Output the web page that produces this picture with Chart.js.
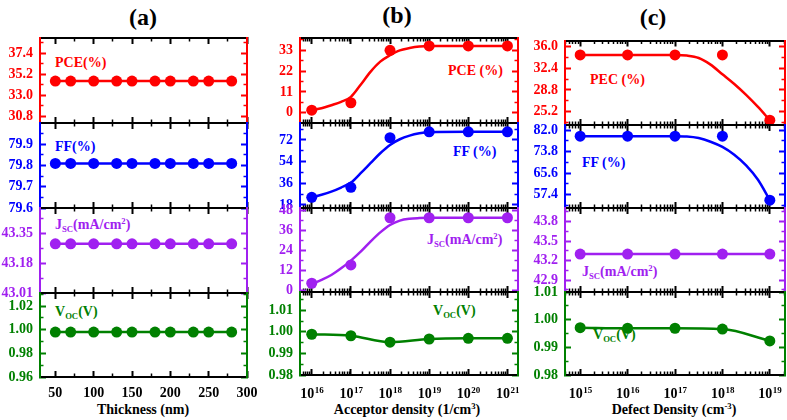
<!DOCTYPE html>
<html>
<head>
<meta charset="utf-8">
<script src="https://cdn.jsdelivr.net/npm/chart.js@4.4.1/dist/chart.umd.min.js"></script>
<style>
  html, body { margin: 0; padding: 0; background: #fff; }
  #wrap { position: relative; width: 787px; height: 420px; overflow: hidden; font-family: 'Liberation Serif', 'Times New Roman', serif; font-weight: bold; }
  #wrap canvas { position: absolute; left: 0; top: 0; }
  .lbl { position: absolute; white-space: nowrap; line-height: 1; font-size: 14px; transform: translateY(-50%); }
  .lbl.c { transform: translate(-50%, -50%); }
  .lbl sub, .lbl sup { font-size: 62%; position: relative; vertical-align: baseline; }
  .lbl sub { top: 0.3em; }
  .lbl sup { top: -0.55em; }
</style>
</head>
<body>
<div id="wrap"></div>
<script>
// ---- data ----
const thickness = [50, 70, 100, 130, 150, 180, 200, 230, 250, 280];
const thickPCE = [34.47, 34.47, 34.47, 34.47, 34.47, 34.47, 34.47, 34.47, 34.47, 34.47];
const thickFF = [79.81, 79.81, 79.81, 79.81, 79.81, 79.81, 79.81, 79.81, 79.81, 79.81];
const thickJsc = [43.29, 43.29, 43.29, 43.29, 43.29, 43.29, 43.29, 43.29, 43.29, 43.29];
const thickVoc = [0.998, 0.998, 0.998, 0.998, 0.998, 0.998, 0.998, 0.998, 0.998, 0.998];

// acceptor density, as log10 exponent
const acceptorExp = [16, 17, 18, 19, 20, 21];
const accPCE = [1.4, 5.3, 33.0, 35.3, 35.3, 35.3];
const accFF = [24.4, 32.7, 73.9, 78.8, 78.8, 78.8];
const accJsc = [4.4, 15.3, 43.4, 43.4, 43.4, 43.4];
const accVoc = [0.9989, 0.9982, 0.9952, 0.9967, 0.9970, 0.9970];
// fitted curves drawn through the acceptor points
const accFitExp = [16, 16.25, 16.5, 16.75, 17, 17.25, 17.5, 17.75, 18, 18.25, 18.5, 18.75, 19, 20, 21];
const accPCEFit = [1.4, 2.4, 4.0, 5.8, 8.4, 14.8, 21.6, 27.0, 30.4, 33.0, 34.2, 35.0, 35.3, 35.3, 35.3];
const accFFFit = [24.4, 26.5, 29.1, 32.5, 36.6, 44.4, 52.7, 61.0, 67.9, 72.6, 75.6, 77.5, 78.5, 78.8, 78.8];
const accJscFit = [4.0, 6.4, 9.3, 13.3, 17.9, 23.2, 29.2, 34.7, 39.1, 41.7, 42.8, 43.2, 43.4, 43.4, 43.4];

// defect density, as log10 exponent
const defectExp = [15, 16, 17, 18, 19];
const defPEC = [34.6, 34.6, 34.6, 34.6, 23.8];
const defFF = [79.7, 79.7, 79.7, 79.7, 55.2];
const defJsc = [43.30, 43.30, 43.30, 43.30, 43.30];
const defVoc = [0.9971, 0.9969, 0.9969, 0.9966, 0.9923];
const defFitExp = [15, 16, 17, 17.25, 17.5, 17.75, 18, 18.25, 18.5, 18.75, 19];
const defPECFit = [34.6, 34.6, 34.6, 34.5, 34.1, 33.0, 31.4, 29.8, 28.0, 26.0, 23.8];
const defFFFit = [79.7, 79.7, 79.7, 79.6, 79.0, 77.6, 75.6, 72.6, 68.5, 63.0, 55.2];

// tick values
const thickTicks = [50, 100, 150, 200, 250, 300];
const thickMinor = [75, 125, 175, 225, 275];
const accTicks = [16, 17, 18, 19, 20, 21];
const defTicks = [15, 16, 17, 18, 19];

const aPCETicks = [30.8, 33.0, 35.2, 37.4];
const aFFTicks = [79.6, 79.7, 79.8, 79.9];
const aJscTicks = [43.01, 43.18, 43.35];
const aVocTicks = [0.96, 0.98, 1.00, 1.02];
const bPCETicks = [0, 11, 22, 33];
const bFFTicks = [18, 36, 54, 72];
const bJscTicks = [0, 12, 24, 36, 48];
const bVocTicks = [0.98, 0.99, 1.00, 1.01];
const cPECTicks = [25.2, 28.8, 32.4, 36.0];
const cFFTicks = [57.4, 65.6, 73.8, 82.0];
const cJscTicks = [42.9, 43.2, 43.5, 43.8];
const cVocTicks = [0.98, 0.99, 1.00, 1.01];

const RED = '#ff0000', BLUE = '#0000ff', PURPLE = '#a020f0', GREEN = '#008000';
const FONT = "'Liberation Serif', 'Times New Roman', serif";
const W = 787, H = 420;
const LABEL_W = 46, LABEL_H = 40;

function logMinor(min, max) {
    const out = [];
    for (let n = Math.floor(min); n <= Math.ceil(max); n++) {
        for (let k = 2; k <= 9; k++) {
            const v = n + Math.log10(k);
            if (v >= min && v <= max) out.push(v);
        }
    }
    return out;
}

function halfSteps(ticks, min, max) {
    const step = ticks[1] - ticks[0];
    const out = [];
    for (let v = ticks[0] - step / 2; v <= max + 1e-9; v += step) {
        if (v >= min - 1e-9) out.push(v);
    }
    return out;
}

// "10" with a raised exponent under each tick of the bottom x scale
const powLabels = {
    id: 'powLabels',
    afterDraw(chart, args, opts) {
        if (!opts.show) return;
        const s = chart.scales.x;
        const ctx = chart.ctx;
        const base = s.top + opts.offset;
        ctx.save();
        ctx.fillStyle = '#000';
        ctx.textAlign = 'left';
        ctx.textBaseline = 'alphabetic';
        s.ticks.forEach(t => {
            const x = s.getPixelForValue(t.value);
            const exp = String(Math.round(t.value));
            ctx.font = 'bold 14px ' + FONT;
            const w1 = ctx.measureText('10').width;
            ctx.font = 'bold 9px ' + FONT;
            const w2 = ctx.measureText(exp).width;
            const x0 = x - (w1 + w2) / 2;
            ctx.font = 'bold 14px ' + FONT;
            ctx.fillText('10', x0, base);
            ctx.font = 'bold 9px ' + FONT;
            ctx.fillText(exp, x0 + w1 + 0.5, base - 5.5);
        });
        ctx.restore();
    }
};

const columns = [
    { left: 40, right: 247, rows: [38, 123, 208, 293, 377], xMin: 30, xMax: 300,
      xTicks: thickTicks, xMinor: thickMinor, xLabel: v => String(v), pad: 14 },
    { left: 300, right: 518, rows: [38, 123, 208, 292, 375], xMin: 15.7, xMax: 21.27,
      xTicks: accTicks, xMinor: logMinor(15.7, 21.27), pow: true },
    { left: 565, right: 785, rows: [40.5, 125, 208, 292, 375], xMin: 14.68, xMax: 19.32,
      xTicks: defTicks, xMinor: logMinor(14.68, 19.32), pow: true }
];

const panels = [
    { col: 0, row: 0, color: RED, yMin: 30.07, yMax: 39.0, yTicks: aPCETicks, dec: 1, xs: thickness, ys: thickPCE, line: 'straight' },
    { col: 0, row: 1, color: BLUE, yMin: 79.6, yMax: 80.0, yTicks: aFFTicks, dec: 1, xs: thickness, ys: thickFF, line: 'straight' },
    { col: 0, row: 2, color: PURPLE, yMin: 43.01, yMax: 43.494, yTicks: aJscTicks, dec: 2, xs: thickness, ys: thickJsc, line: 'straight' },
    { col: 0, row: 3, color: GREEN, yMin: 0.96, yMax: 1.031, yTicks: aVocTicks, dec: 2, xs: thickness, ys: thickVoc, line: 'straight' },

    { col: 1, row: 0, color: RED, yMin: -5.4, yMax: 39.5, yTicks: bPCETicks, dec: 0, xs: acceptorExp, ys: accPCE, line: 'none', fx: accFitExp, fy: accPCEFit },
    { col: 1, row: 1, color: BLUE, yMin: 15.5, yMax: 86.1, yTicks: bFFTicks, dec: 0, xs: acceptorExp, ys: accFF, line: 'none', fx: accFitExp, fy: accFFFit },
    { col: 1, row: 2, color: PURPLE, yMin: -0.8, yMax: 49.2, yTicks: bJscTicks, dec: 0, xs: acceptorExp, ys: accJsc, line: 'none', fx: accFitExp, fy: accJscFit },
    { col: 1, row: 3, color: GREEN, yMin: 0.98, yMax: 1.0185, yTicks: bVocTicks, dec: 2, xs: acceptorExp, ys: accVoc, line: 'smooth' },

    { col: 2, row: 0, color: RED, yMin: 23.0, yMax: 37.0, yTicks: cPECTicks, dec: 1, xs: defectExp, ys: defPEC, line: 'none', fx: defFitExp, fy: defPECFit },
    { col: 2, row: 1, color: BLUE, yMin: 52.2, yMax: 84.0, yTicks: cFFTicks, dec: 1, xs: defectExp, ys: defFF, line: 'none', fx: defFitExp, fy: defFFFit },
    { col: 2, row: 2, color: PURPLE, yMin: 42.715, yMax: 44.01, yTicks: cJscTicks, dec: 1, xs: defectExp, ys: defJsc, line: 'straight' },
    { col: 2, row: 3, color: GREEN, yMin: 0.98, yMax: 1.01, yTicks: cVocTicks, dec: 2, xs: defectExp, ys: defVoc, line: 'smooth' }
];

// text placed on the figure: [html, x, y, color, size, centred]
const notes = [
    ['(a)', 143, 17, '#000', 24, true],
    ['(b)', 397, 15, '#000', 24, true],
    ['(c)', 653, 17, '#000', 24, true],
    ['Thickness (nm)', 143, 410, '#000', 14, true],
    ['Acceptor density (1/cm<sup>3</sup>)', 407, 410, '#000', 14, true],
    ['Defect Density (cm<sup>-3</sup>)', 674, 410, '#000', 14, true],
    ['PCE(%)', 55, 63, RED, 14],
    ['FF(%)', 55, 147, BLUE, 14],
    ['J<sub>SC</sub>(mA/cm<sup>2</sup>)', 55, 225, PURPLE, 14],
    ['V<sub>OC</sub>(V)', 55, 312, GREEN, 14],
    ['PCE (%)', 448, 71, RED, 14],
    ['FF (%)', 453, 152, BLUE, 14],
    ['J<sub>SC</sub>(mA/cm<sup>2</sup>)', 427, 240, PURPLE, 14],
    ['V<sub>OC</sub>(V)', 433, 311, GREEN, 14],
    ['PEC (%)', 590, 80, RED, 14],
    ['FF (%)', 582, 163, BLUE, 14],
    ['J<sub>SC</sub>(mA/cm<sup>2</sup>)', 582, 272, PURPLE, 14],
    ['V<sub>OC</sub>(V)', 593, 335, GREEN, 14]
];

const wrap = document.getElementById('wrap');

notes.forEach(n => {
    const d = document.createElement('div');
    d.className = 'lbl' + (n[5] ? ' c' : '');
    d.innerHTML = n[0];
    d.style.left = n[1] + 'px';
    d.style.top = n[2] + 'px';
    d.style.color = n[3];
    d.style.fontSize = n[4] + 'px';
    wrap.appendChild(d);
});

// o.size: box size for a scale that shows labels (labels are clipped to their box)
function makeScale(pos, min, max, ticks, o) {
    const horizontal = pos === 'top' || pos === 'bottom';
    const c = horizontal ? '#000' : o.color;
    const size = o.labels ? o.size : 0;
    return {
        type: 'linear', position: pos, min: min, max: max,
        weight: o.labels ? 1 : 0,
        afterBuildTicks: s => { s.ticks = ticks.map(v => ({ value: v })); },
        afterFit: s => {
            if (horizontal) s.height = size; else s.width = size;
            s.paddingLeft = s.paddingRight = s.paddingTop = s.paddingBottom = 0;
        },
        border: { display: !o.minor, color: c, width: 2 },
        grid: { display: true, drawOnChartArea: false, tickLength: o.minor ? -3.5 : -6, tickWidth: o.minor ? 1.5 : 2, tickColor: c },
        ticks: {
            display: !!o.labels, autoSkip: false, maxRotation: 0, padding: o.pad || 0, color: c,
            font: { family: FONT, weight: 'bold', size: 14 },
            callback: o.labels || (v => v)
        }
    };
}

function pointSet(xs, ys, color, line) {
    return {
        data: xs.map((x, i) => ({ x: x, y: ys[i] })),
        showLine: line !== 'none',
        borderColor: color, backgroundColor: color,
        borderWidth: 2.5, pointRadius: 5.5, pointHoverRadius: 5.5, pointBorderWidth: 0,
        cubicInterpolationMode: line === 'smooth' ? 'monotone' : 'default',
        tension: 0, clip: false
    };
}

function fitSet(xs, ys, color) {
    return {
        data: xs.map((x, i) => ({ x: x, y: ys[i] })),
        showLine: true, borderColor: color, backgroundColor: color,
        borderWidth: 2.5, pointRadius: 0, pointHoverRadius: 0,
        cubicInterpolationMode: 'monotone', clip: false
    };
}

function drawPanel(p) {
    const col = columns[p.col];
    const top = col.rows[p.row], bottom = col.rows[p.row + 1];
    const last = p.row === 3;
    const canvas = document.createElement('canvas');
    canvas.width = W;
    canvas.height = H;
    wrap.appendChild(canvas);

    const datasets = [pointSet(p.xs, p.ys, p.color, p.line)];
    if (p.fx) datasets.push(fitSet(p.fx, p.fy, p.color));
    const yMinor = halfSteps(p.yTicks, p.yMin, p.yMax);
    const o = { color: p.color };
    const minor = Object.assign({}, o, { minor: true });
    const xMain = last && !col.pow ? Object.assign({}, o, { labels: col.xLabel, pad: col.pad, size: LABEL_H }) : o;
    const bottomPad = H - bottom - (last && !col.pow ? LABEL_H : 0);

    new Chart(canvas, {
        type: 'scatter',
        data: { datasets: datasets },
        plugins: [powLabels],
        options: {
            responsive: false, animation: false, devicePixelRatio: 1,
            layout: {
                autoPadding: false,
                padding: { left: col.left - LABEL_W, right: W - col.right, top: top, bottom: bottomPad }
            },
            plugins: {
                legend: { display: false },
                tooltip: { enabled: false },
                powLabels: { show: last && !!col.pow, offset: 23 }
            },
            events: [],
            scales: {
                x: makeScale('bottom', col.xMin, col.xMax, col.xTicks, xMain),
                xMinor: makeScale('bottom', col.xMin, col.xMax, col.xMinor, minor),
                xTop: makeScale('top', col.xMin, col.xMax, col.xTicks, o),
                xTopMinor: makeScale('top', col.xMin, col.xMax, col.xMinor, minor),
                y: makeScale('left', p.yMin, p.yMax, p.yTicks, Object.assign({}, o, { labels: v => v.toFixed(p.dec), pad: 13, size: LABEL_W })),
                yMinor: makeScale('left', p.yMin, p.yMax, yMinor, minor),
                yRight: makeScale('right', p.yMin, p.yMax, p.yTicks, o),
                yRightMinor: makeScale('right', p.yMin, p.yMax, yMinor, minor)
            }
        }
    });
}

panels.forEach(drawPanel);
</script>
</body>
</html>
